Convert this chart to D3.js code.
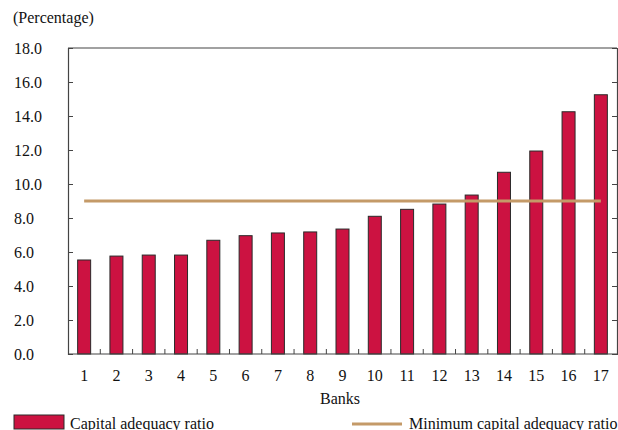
<!DOCTYPE html>
<html><head><meta charset="utf-8">
<script src="https://cdn.jsdelivr.net/npm/d3@7"></script>
<style>body{margin:0;background:#fff}svg{display:block}text{font-family:"Liberation Serif","Times New Roman",serif;fill:#111}</style>
</head><body><svg id="c" width="618" height="430"></svg>
<script>
const banks = ["1","2","3","4","5","6","7","8","9","10","11","12","13","14","15","16","17"];
const ratios = [5.53,5.76,5.82,5.82,6.69,6.96,7.12,7.18,7.35,8.1,8.51,8.82,9.35,10.69,11.94,14.25,15.25];
const minimumRatio = 9.0;
const yTicks = [0,2,4,6,8,10,12,14,16,18];

const svg = d3.select("#c");
const L=68, R=617, T=48, B=354;
const xb = d3.scaleBand().domain(banks).range([L,R]);
const y = d3.scaleLinear().domain([0,18]).range([B,T]);
const axisColor="#444";
const fs=16;

svg.append("line").attr("x1",L).attr("x2",R).attr("y1",T).attr("y2",T).attr("stroke",axisColor).attr("stroke-width",1.2);

svg.append("g").selectAll("rect").data(ratios).join("rect")
  .attr("x",(d,i)=>xb(banks[i])+xb.bandwidth()/2-6.5)
  .attr("width",13)
  .attr("y",d=>y(d)).attr("height",d=>B-y(d))
  .attr("fill","#cc1241").attr("stroke","#2a2a2a").attr("stroke-width",1);

svg.append("line")
  .attr("x1",xb(banks[0])+xb.bandwidth()/2).attr("x2",xb(banks[banks.length-1])+xb.bandwidth()/2)
  .attr("y1",y(minimumRatio)).attr("y2",y(minimumRatio))
  .attr("stroke","#c49a68").attr("stroke-width",3);

const gl = svg.append("g").attr("transform",`translate(${L},0)`)
  .call(d3.axisRight(y).tickValues(yTicks).tickSize(5).tickFormat(""));
gl.select(".domain").attr("stroke",axisColor).attr("stroke-width",1.2);
gl.selectAll(".tick line").attr("stroke",axisColor);
svg.append("g").selectAll("text").data(yTicks).join("text")
  .attr("x",14).attr("y",d=>y(d)).attr("dy","0.35em").attr("font-size",fs).text(d=>d3.format(".1f")(d));

const gr = svg.append("g").attr("transform",`translate(${R},0)`)
  .call(d3.axisLeft(y).tickValues(yTicks).tickSize(5).tickFormat(""));
gr.select(".domain").attr("stroke",axisColor).attr("stroke-width",1.2);
gr.selectAll(".tick line").attr("stroke",axisColor);

svg.append("line").attr("x1",L).attr("x2",R).attr("y1",B).attr("y2",B).attr("stroke",axisColor).attr("stroke-width",1.2);
svg.append("g").selectAll("line").data(banks.slice(1)).join("line")
  .attr("x1",d=>xb(d)).attr("x2",d=>xb(d)).attr("y1",B).attr("y2",B-5).attr("stroke",axisColor);
svg.append("g").selectAll("text").data(banks).join("text")
  .attr("x",d=>xb(d)+xb.bandwidth()/2).attr("y",381).attr("text-anchor","middle").attr("font-size",fs).text(d=>d);

svg.append("text").attr("x",340).attr("y",404).attr("text-anchor","middle").attr("font-size",fs).text("Banks");
svg.append("text").attr("x",13).attr("y",23).attr("font-size",fs).text("(Percentage)");

svg.append("rect").attr("x",14).attr("y",415).attr("width",50).attr("height",14)
  .attr("fill","#cc1241").attr("stroke","#2a2a2a").attr("stroke-width",1);
svg.append("text").attr("x",70).attr("y",429).attr("font-size",fs).text("Capital adequacy ratio");
svg.append("line").attr("x1",352).attr("x2",402).attr("y1",424).attr("y2",424).attr("stroke","#c49a68").attr("stroke-width",3);
svg.append("text").attr("x",409).attr("y",429).attr("font-size",fs).text("Minimum capital adequacy ratio");
</script></body></html>
